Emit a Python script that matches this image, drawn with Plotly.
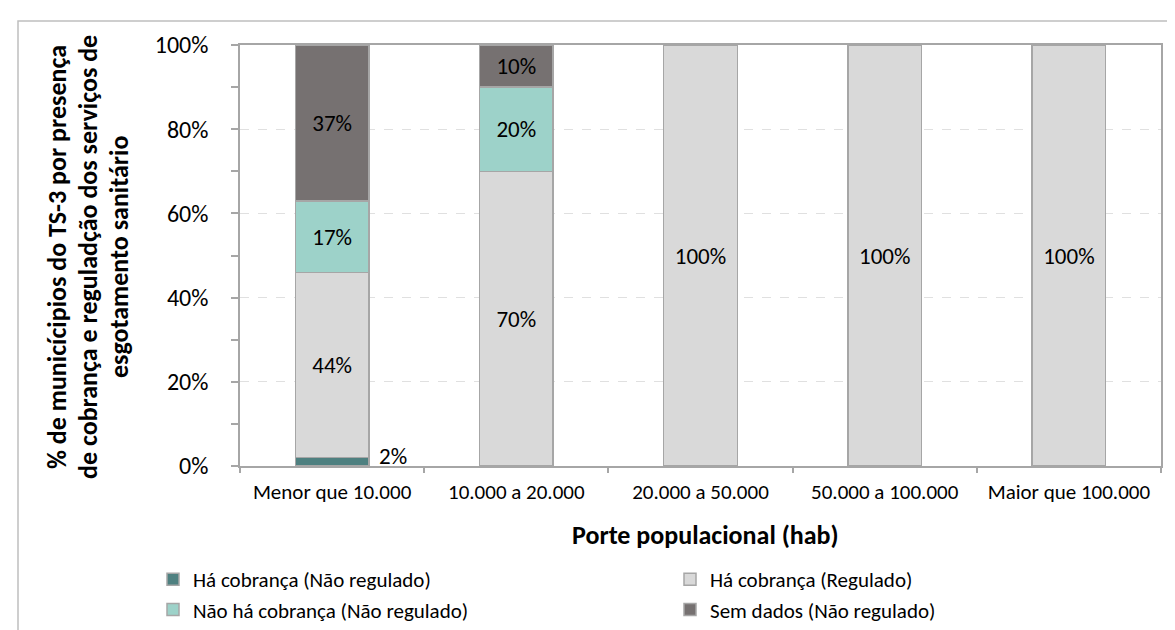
import plotly.graph_objects as go

categories = ["Menor que 10.000", "10.000 a 20.000", "20.000 a 50.000", "50.000 a 100.000", "Maior que 100.000"]

ha_cobranca_nao_reg = [0.02, 0.0, 0.0, 0.0, 0.0]
ha_cobranca_reg = [0.44, 0.70, 1.00, 1.00, 1.00]
nao_ha_cobranca_nao_reg = [0.17, 0.20, 0.0, 0.0, 0.0]
sem_dados_nao_reg = [0.37, 0.10, 0.0, 0.0, 0.0]

series_names = ["Há cobrança (Não regulado)", "Há cobrança (Regulado)",
                "Não há cobrança (Não regulado)", "Sem dados (Não regulado)"]
series_values = [ha_cobranca_nao_reg, ha_cobranca_reg, nao_ha_cobranca_nao_reg, sem_dados_nao_reg]
series_colors = ["#4E8080", "#D9D9D9", "#9DD2C9", "#767171"]

y_title_lines = ["% de municícipios do TS-3 por presença",
                 "de cobrança e reguladção dos serviços de",
                 "esgotamento sanitário"]
x_title = "Porte populacional (hab)"

FONT = "Calibri, Carlito, Lato, sans-serif"
FS_TICK = 21
FS_YTICK = 24
FS_LABEL = 23
FS_LEG = 21
FS_TITLE = 26

fig = go.Figure()
for i, (name, vals, col) in enumerate(zip(series_names, series_values, series_colors)):
    texts = [f"{round(v*100):.0f}%" if v > 0 else "" for v in vals]
    fig.add_trace(go.Bar(
        x=categories, y=vals, name=name,
        marker=dict(color=col, line=dict(color="#A6A6A6", width=1.5)),
        width=0.4,
        text=texts,
        textposition="none" if i == 0 else "inside",
        insidetextanchor="middle",
        insidetextfont=dict(color="black", size=FS_LABEL, family=FONT),
        textangle=0,
        hoverinfo="skip",
    ))

# label of the small first segment, placed to the right of the bar
for c, v in zip(categories, ha_cobranca_nao_reg):
    if v > 0:
        fig.add_annotation(x=c, y=v, xref="x", yref="y", text=f"{round(v*100):.0f}%",
                           showarrow=False, xshift=61, yshift=2,
                           font=dict(size=FS_LABEL, color="black", family=FONT))

W, H = 1175, 630
L, R, T, B = 232, 22, 37, 172
pw, ph = W - L - R, H - T - B

def px(xp):
    return (xp - L) / pw

def py(yp):
    return (H - B - yp) / ph

fig.add_annotation(xref="paper", yref="paper", x=px(697), y=py(527), xanchor="center", yanchor="middle",
                   text=f"<b>{x_title}</b>", showarrow=False,
                   font=dict(size=FS_TITLE, color="black", family=FONT))
for xc, line in zip([49, 80, 111], y_title_lines):
    fig.add_annotation(xref="paper", yref="paper", x=px(xc), y=py(249), xanchor="center", yanchor="middle",
                       text=f"<b>{line}</b>", showarrow=False, textangle=-90,
                       font=dict(size=FS_TITLE, color="black", family=FONT))

fig.add_shape(type="rect", xref="paper", yref="paper", x0=px(10), x1=px(1185), y0=py(645), y1=py(13),
              line=dict(color="#BFBFBF", width=1.5), fillcolor="rgba(0,0,0,0)", layer="below")

fig.update_layout(
    width=W, height=H,
    margin=dict(l=L, r=R, t=T, b=B, autoexpand=False),
    barmode="stack",
    paper_bgcolor="white", plot_bgcolor="white",
    font=dict(family=FONT, size=FS_TICK, color="black"),
    showlegend=True,
    legend=dict(orientation="h", x=px(145), y=py(551), xanchor="left", yanchor="top",
                entrywidth=472, entrywidthmode="pixels", traceorder="normal",
                font=dict(size=FS_LEG, family=FONT, color="black")),
    xaxis=dict(showline=True, linecolor="#A6A6A6", linewidth=1.5, mirror=True,
               ticks="outside", tickson="boundaries", ticklen=5, tickcolor="#A6A6A6",
               tickwidth=1.5, ticklabelstandoff=6, showgrid=False,
               tickfont=dict(size=FS_TICK, family=FONT, color="black")),
    yaxis=dict(range=[0, 1], tickvals=[0, 0.2, 0.4, 0.6, 0.8, 1.0], tickformat=".0%",
               showline=True, linecolor="#A6A6A6", linewidth=1.5, mirror=True,
               ticks="outside", ticklen=7, tickcolor="#A6A6A6", tickwidth=1.5,
               ticklabelstandoff=18,
               minor=dict(dtick=0.1, ticks="outside", ticklen=7, tickcolor="#A6A6A6", tickwidth=1.5, showgrid=False),
               showgrid=True, gridcolor="#E0E0E0", griddash="dash", gridwidth=1, zeroline=False,
               tickfont=dict(size=FS_YTICK, family=FONT, color="black")),
)

fig.write_html("out.html")
